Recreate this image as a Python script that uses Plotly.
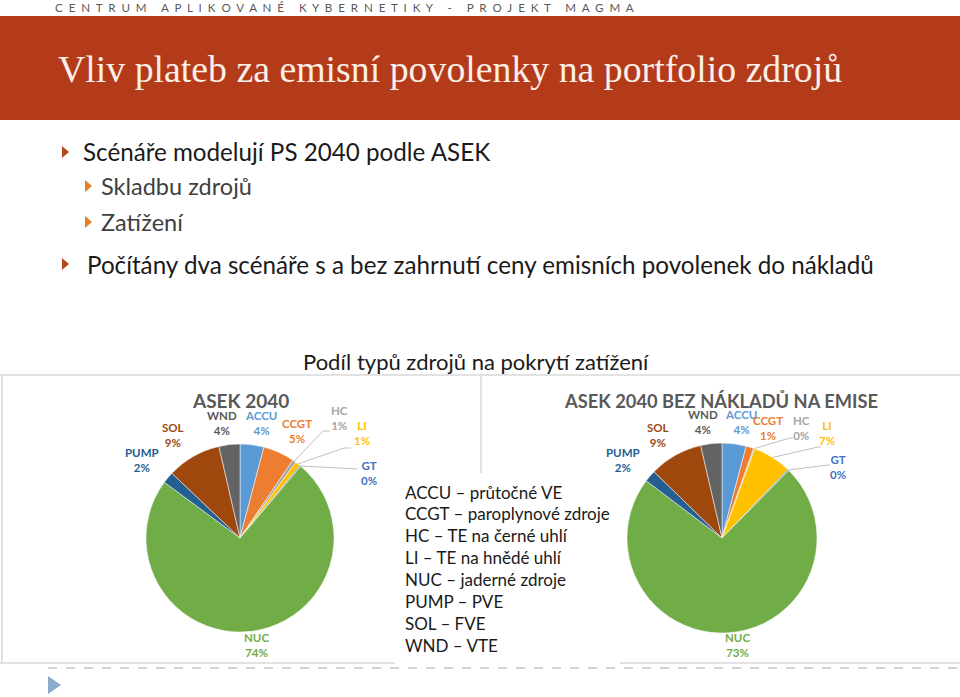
import math
import plotly.graph_objects as go

W, H = 960, 697

# ---------------- data ----------------
categories = ["ACCU", "CCGT", "HC", "LI", "GT", "NUC", "PUMP", "SOL", "WND"]
asek_2040 = [4.1, 5.4, 0.6, 0.9, 0.2, 73.9, 2.0, 9.3, 3.6]
asek_2040_bez = [4.1, 1.3, 0.2, 6.6, 0.2, 72.9, 2.0, 9.1, 3.6]
pie_titles = ["ASEK 2040", "ASEK 2040 BEZ NÁKLADŮ NA EMISE"]
legend_lines = [
    "ACCU – průtočné VE",
    "CCGT – paroplynové zdroje",
    "HC – TE na černé uhlí",
    "LI – TE na hnědé uhlí",
    "NUC – jaderné zdroje",
    "PUMP – PVE",
    "SOL – FVE",
    "WND – VTE",
]
header_words = ["CENTRUM", "APLIKOVANÉ", "KYBERNETIKY", "-", "PROJEKT", "MAGMA"]
slide_title = "Vliv plateb za emisní povolenky na portfolio zdrojů"
bullets = [
    (1, "Scénáře modelují PS 2040 podle ASEK"),
    (2, "Skladbu zdrojů"),
    (2, "Zatížení"),
    (1, "Počítány dva scénáře s a bez zahrnutí ceny emisních povolenek do nákladů"),
]
chart_heading = "Podíl typů zdrojů na pokrytí zatížení"

# ---------------- styles ----------------
slice_colors = ["#5B9BD5", "#ED7D31", "#A5A5A5", "#FFC000", "#4472C4",
                "#70AD47", "#255E91", "#9E480E", "#636363"]
label_colors = ["#5B9BD5", "#ED7D31", "#A5A5A5", "#FFC000", "#4472C4",
                "#70AD47", "#255E91", "#9E480E", "#595959"]
SANS = "Lato"
NB = "\u00a0"


def fx(x):
    return x / W


def fy(y):
    return 1 - y / H


pies = [
    dict(values=asek_2040, title=pie_titles[0], cx=240, cy=538, r=94, title_xy=(240, 400), title_size=19,
         labels_xy=[(261, 423), (297, 431), (339, 418), (362, 433), (369, 473),
                    (256, 645), (142, 460), (173, 435), (222, 423)],
         leaders={"HC": [(323, 431), (330, 431)],
                  "LI": [(344, 448), (351, 448)],
                  "GT": [(357, 469)]}),
    dict(values=asek_2040_bez, title=pie_titles[1], cx=722, cy=538, r=95, title_xy=(721, 401), title_size=18.3,
         labels_xy=[(741, 422), (768, 428), (801, 428), (827, 433), (838, 467),
                    (737, 645), (623, 460), (658, 435), (703, 422)],
         leaders={"HC": [(790, 438), (793, 438)],
                  "LI": [(818, 447), (821, 447)],
                  "GT": [(828, 465), (830, 465)]}),
]

fig = go.Figure()
shapes = []
annotations = []

# header band
shapes.append(dict(type="rect", xref="paper", yref="paper", x0=0, x1=1,
                   y0=fy(120), y1=fy(16), fillcolor="#B43B1A", line_width=0, layer="below"))
header_text = (NB * 5).join((NB * 2).join(list(w)) for w in header_words)
annotations.append(dict(x=fx(53), y=fy(8), xref="paper", yref="paper", text=header_text,
                        showarrow=False, xanchor="left", yanchor="middle",
                        font=dict(family=SANS, size=11.6, color="#595959")))
annotations.append(dict(x=fx(56), y=fy(69), xref="paper", yref="paper", text=slide_title,
                        showarrow=False, xanchor="left", yanchor="middle",
                        font=dict(family="Liberation Serif", size=37.8, color="#FBEFE8")))

# bullets
bullet_y = [152, 186, 222, 264]
text_x = [81, 99, 99, 85]
for (lvl, txt), by, tx in zip(bullets, bullet_y, text_x):
    if lvl == 1:
        bx, col, tcol, fs = 62, "#B5471E", "#1A1A1A", 24.2
    else:
        bx, col, tcol, fs = 85, "#E57E2A", "#404040", 23.5
    shapes.append(dict(type="path", xref="paper", yref="paper",
                       path=f"M {fx(bx)},{fy(by-6)} L {fx(bx+7)},{fy(by)} L {fx(bx)},{fy(by+6)} Z",
                       fillcolor=col, line_width=0))
    annotations.append(dict(x=fx(tx), y=fy(by), xref="paper", yref="paper", text=txt,
                            showarrow=False, xanchor="left", yanchor="middle",
                            font=dict(family=SANS, size=fs, color=tcol)))

# chart heading
annotations.append(dict(x=fx(476), y=fy(361), xref="paper", yref="paper", text=chart_heading,
                        showarrow=False, xanchor="center", yanchor="middle",
                        font=dict(family=SANS, size=22, color="#1A1A1A")))

# chart frames
frame_col = "#D9D9D9"
for (x0, y0, x1, y1) in [(0, 375, 960, 375), (481, 375, 481, 473), (2, 375, 2, 663),
                         (0, 663, 395, 663), (620, 663, 960, 663)]:
    shapes.append(dict(type="line", xref="paper", yref="paper", x0=fx(x0), y0=fy(y0),
                       x1=fx(x1), y1=fy(y1), line=dict(color=frame_col, width=1.5)))

# bottom dashed line + triangle
shapes.append(dict(type="line", xref="paper", yref="paper", x0=fx(48), y0=fy(668),
                   x1=fx(960), y1=fy(668), line=dict(color="#A6A6A6", width=1, dash="dash")))
shapes.append(dict(type="path", xref="paper", yref="paper",
                   path=f"M {fx(48)},{fy(676)} L {fx(61)},{fy(685)} L {fx(48)},{fy(694)} Z",
                   fillcolor="#8EAACB", line_width=0))

# pies
for p in pies:
    vals = p["values"]
    total = sum(vals)
    cx, cy, r = p["cx"], p["cy"], p["r"]
    fig.add_trace(go.Pie(
        labels=categories, values=vals, sort=False, direction="clockwise", rotation=0,
        marker=dict(colors=slice_colors, line=dict(color="#FFFFFF", width=0.5)),
        textinfo="none", hoverinfo="label+percent", showlegend=False,
        domain=dict(x=[fx(cx - r), fx(cx + r)], y=[fy(cy + r), fy(cy - r)]),
    ))
    tx, ty = p["title_xy"]
    annotations.append(dict(x=fx(tx), y=fy(ty), xref="paper", yref="paper",
                            text=f"<b>{p['title']}</b>",
                            showarrow=False, xanchor="center", yanchor="middle",
                            font=dict(family=SANS, size=p["title_size"], color="#595959")))
    cum = 0.0
    for i, (cat, v) in enumerate(zip(categories, vals)):
        pct = v / total * 100
        lx, ly = p["labels_xy"][i]
        annotations.append(dict(x=fx(lx), y=fy(ly), xref="paper", yref="paper",
                                text=f"<b>{cat}<br>{pct:.0f}%</b>", showarrow=False,
                                xanchor="center", yanchor="middle",
                                font=dict(family=SANS, size=11.5, color=label_colors[i])))
        if cat in p["leaders"]:
            a = 2 * math.pi * (cum + v / 2) / total
            sx, sy = cx + r * math.sin(a), cy - r * math.cos(a)
            pts = [(sx, sy)] + p["leaders"][cat]
            path = "M " + " L ".join(f"{fx(x)},{fy(y)}" for x, y in pts)
            shapes.append(dict(type="path", xref="paper", yref="paper", path=path,
                               line=dict(color="#BFBFBF", width=1)))
        cum += v

# legend text block
for i, line in enumerate(legend_lines):
    annotations.append(dict(x=fx(403), y=fy(492 + i * 21.9), xref="paper", yref="paper",
                            text=line, showarrow=False, xanchor="left", yanchor="middle",
                            font=dict(family=SANS, size=17, color="#1A1A1A")))

fig.update_layout(width=W, height=H, margin=dict(l=0, r=0, t=0, b=0),
                  paper_bgcolor="#FFFFFF", plot_bgcolor="#FFFFFF",
                  shapes=shapes, annotations=annotations)
fig.write_html("out.html")
